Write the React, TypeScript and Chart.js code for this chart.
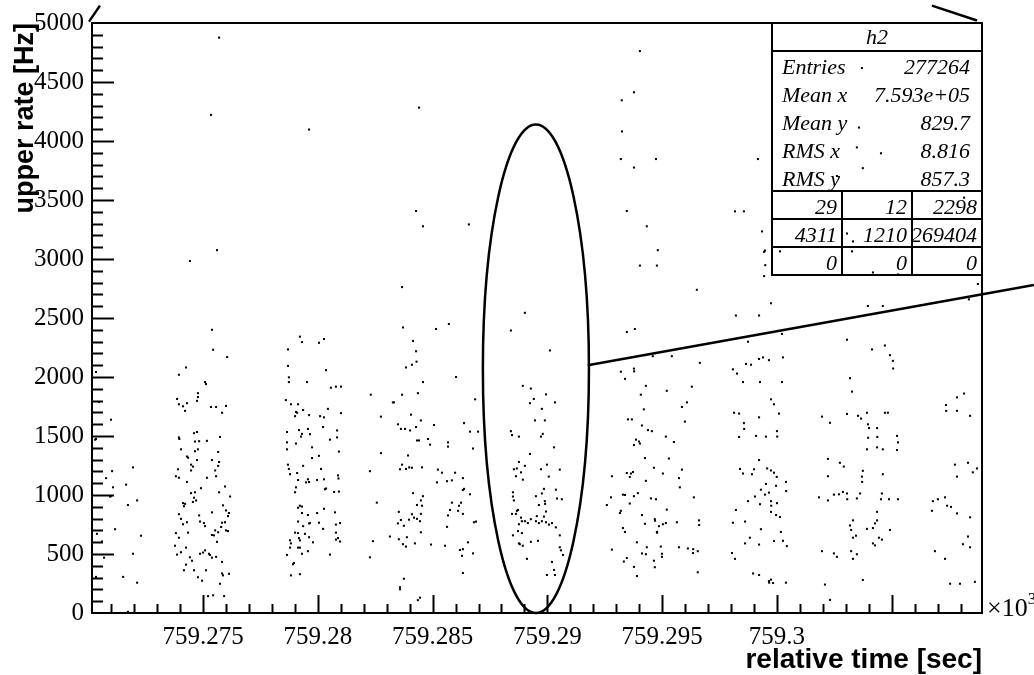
import { useEffect, useRef } from 'react';
import { Chart, registerables } from 'chart.js';

Chart.register(...registerables);

// Time origin of the run (seconds); point times below are offsets from it.
const T0 = 759270;

// Axis ranges (x in units of 10^3 s, y in Hz)
const X_MIN = 759.270165;
const X_MAX = 759.30893;
const Y_MIN = 0;
const Y_MAX = 5000;
const X_TICKS = [759.275, 759.28, 759.285, 759.29, 759.295, 759.3];
const Y_TICKS = [0, 500, 1000, 1500, 2000, 2500, 3000, 3500, 4000, 4500, 5000];

// [time offset (s), upper rate (Hz)] per time window
const window1: [number, number][] = [
  [5.70, 4876], [5.35, 4221], [5.61, 3075], [4.43, 2983], [5.39, 2400], [5.44, 2231], [6.05, 2169], [0.34, 2042],
  [4.26, 2081], [3.95, 2019], [5.09, 1957], [5.13, 1940], [4.78, 1863], [4.78, 1830], [4.74, 1798], [3.87, 1814],
  [3.95, 1769], [4.13, 1752], [4.30, 1778], [4.22, 1713], [0.47, 1788], [5.35, 1746], [5.57, 1746], [6.00, 1755],
  [5.83, 1697], [0.99, 1638], [0.30, 1469], [0.34, 1475], [3.95, 1488], [3.97, 1475], [4.61, 1524], [4.74, 1534],
  [4.65, 1453], [4.83, 1456], [5.17, 1459], [5.74, 1492], [4.04, 1387], [4.30, 1326], [4.35, 1316], [4.65, 1371],
  [4.78, 1387], [5.66, 1365], [4.74, 1296], [4.48, 1257], [4.56, 1241], [5.39, 1296], [5.70, 1280], [5.66, 1247],
  [4.48, 1208], [3.91, 1218], [5.53, 1208], [1.95, 1234], [1.04, 1202], [0.78, 1143], [3.82, 1159], [3.95, 1146],
  [4.30, 1111], [5.17, 1146], [5.57, 1159], [1.08, 1065], [1.65, 1088], [0.95, 987], [0.99, 990], [4.48, 1016],
  [4.65, 1023], [4.91, 1058], [4.61, 977], [4.70, 954], [4.56, 941], [5.70, 1023], [5.96, 1072], [6.18, 987],
  [2.13, 954], [1.73, 915], [4.13, 931], [4.17, 905], [4.22, 925], [5.87, 912], [5.39, 853], [6.00, 869],
  [6.13, 847], [6.09, 821], [4.83, 827], [4.87, 775], [3.95, 837], [4.04, 798], [4.13, 752], [4.30, 769],
  [5.04, 762], [5.09, 736], [5.83, 765], [5.96, 769], [5.79, 729], [6.00, 700], [6.09, 694], [5.53, 700],
  [5.39, 661], [5.48, 658], [5.66, 684], [5.61, 603], [3.82, 677], [4.35, 681], [3.95, 638], [0.38, 671],
  [1.17, 710], [2.30, 655], [0.60, 606], [3.78, 570], [3.87, 495], [4.04, 515], [4.26, 554], [4.43, 472],
  [4.52, 443], [4.87, 502], [5.00, 512], [5.09, 531], [5.26, 502], [5.30, 492], [5.39, 469], [5.57, 476],
  [1.95, 502], [0.69, 469], [4.26, 410], [4.17, 362], [4.61, 362], [5.13, 362], [5.83, 433], [4.78, 303],
  [4.96, 274], [5.83, 335], [5.87, 319], [6.13, 332], [5.74, 248], [0.34, 306], [1.52, 306], [2.13, 257],
  [5.22, 143], [5.44, 150], [5.92, 143], [1.73, 10],
];

const window2: [number, number][] = [
  [9.62, 4097], [9.22, 2342], [9.31, 2296], [10.05, 2290], [10.27, 2322], [8.70, 2234], [8.70, 2094], [8.74, 1997],
  [8.74, 1957], [9.53, 1957], [10.36, 2058], [10.57, 1909], [10.79, 1918], [11.01, 1918], [8.61, 1804], [8.83, 1769],
  [9.14, 1769], [9.05, 1703], [9.10, 1697], [9.01, 1668], [9.36, 1720], [9.62, 1677], [10.10, 1668], [10.27, 1658],
  [10.44, 1730], [11.01, 1694], [10.23, 1576], [10.84, 1547], [8.66, 1534], [9.18, 1550], [9.31, 1518], [9.27, 1495],
  [9.57, 1560], [9.66, 1515], [10.53, 1469], [10.84, 1488], [8.66, 1446], [8.66, 1387], [9.05, 1436], [9.75, 1404],
  [9.75, 1313], [10.05, 1332], [10.92, 1368], [8.70, 1257], [8.74, 1221], [8.79, 1176], [9.10, 1186], [9.36, 1247],
  [10.14, 1221], [9.14, 1127], [9.49, 1107], [9.57, 1133], [9.62, 1110], [9.97, 1127], [10.27, 1133], [10.31, 1049],
  [10.36, 1055], [9.05, 1065], [9.01, 1023], [10.88, 1166], [10.90, 1140], [10.71, 1026], [10.92, 1029], [9.14, 892],
  [9.22, 909], [9.31, 902], [9.31, 847], [9.57, 830], [9.97, 847], [10.27, 883], [10.75, 853], [9.14, 775],
  [9.36, 736], [9.62, 759], [9.66, 762], [10.05, 765], [10.23, 713], [10.79, 749], [10.97, 762], [9.01, 681],
  [9.14, 677], [9.44, 671], [10.79, 681], [8.79, 616], [8.83, 590], [9.18, 635], [9.22, 616], [9.62, 642],
  [9.79, 599], [10.79, 622], [10.88, 635], [10.97, 606], [8.79, 554], [9.14, 554], [9.22, 554], [9.31, 502],
  [9.57, 524], [8.66, 492], [8.96, 423], [8.92, 413], [8.83, 319], [9.22, 329], [10.53, 495], [12.31, 1850],
  [13.27, 1785], [12.75, 1664], [12.75, 1355], [12.27, 1202], [12.57, 935], [13.14, 648], [12.40, 609], [12.27, 472],
  [13.58, 201], [14.36, 109],
];

const window3: [number, number][] = [
  [14.41, 4283], [14.28, 3407], [14.58, 3277], [16.58, 3293], [13.67, 2762], [13.71, 2420], [15.15, 2407], [15.71, 2449],
  [14.15, 2306], [14.28, 2218], [14.30, 2130], [14.10, 2104], [13.84, 2081], [14.58, 1957], [16.02, 2000], [13.32, 1785],
  [13.67, 1850], [14.36, 1863], [16.85, 1811], [14.06, 1681], [13.49, 1599], [13.62, 1560], [13.80, 1560], [14.02, 1547],
  [14.49, 1632], [14.28, 1576], [14.32, 1462], [14.41, 1462], [14.80, 1475], [14.89, 1427], [15.06, 1593], [16.37, 1609],
  [16.63, 1537], [16.98, 1537], [15.67, 1446], [15.67, 1410], [16.76, 1394], [13.93, 1335], [13.67, 1257], [13.84, 1221],
  [13.98, 1234], [14.10, 1231], [13.58, 1218], [14.54, 1234], [15.23, 1215], [15.41, 1189], [15.19, 1107], [15.63, 1117],
  [15.84, 1124], [15.98, 1189], [16.32, 1143], [16.37, 1052], [14.15, 1016], [14.58, 990], [14.49, 954], [14.54, 909],
  [14.32, 915], [14.10, 837], [13.53, 857], [13.49, 759], [13.62, 788], [13.97, 791], [14.19, 808], [14.32, 798],
  [14.49, 840], [14.45, 778], [13.75, 739], [13.53, 625], [13.88, 642], [13.84, 563], [13.71, 583], [14.23, 590],
  [14.49, 684], [14.93, 580], [15.54, 570], [15.76, 873], [15.84, 935], [15.67, 827], [15.63, 730], [16.11, 866],
  [16.15, 909], [16.24, 935], [16.32, 1042], [16.63, 1006], [16.32, 840], [16.80, 769], [16.89, 775], [16.32, 541],
  [16.19, 534], [16.28, 485], [16.76, 505], [16.54, 599], [16.32, 339], [13.75, 290], [13.58, 218], [14.45, 130],
];

const window4: [number, number][] = [
  [19.02, 2544], [18.41, 2394], [18.93, 1925], [19.28, 1902], [19.41, 1814], [19.24, 1778], [19.46, 1632], [19.76, 1730],
  [19.89, 1632], [18.41, 1541], [18.46, 1508], [18.76, 1495], [19.72, 1495], [19.80, 1518], [19.24, 1348], [18.76, 1280],
  [18.54, 1218], [18.67, 1225], [18.63, 1159], [18.85, 1192], [19.02, 1247], [18.93, 1130], [19.72, 1218], [18.50, 1023],
  [18.50, 987], [18.54, 954], [18.67, 866], [18.72, 873], [18.63, 840], [18.46, 840], [18.85, 808], [18.76, 752],
  [18.89, 778], [19.02, 778], [19.15, 762], [19.28, 795], [19.54, 821], [19.50, 778], [19.63, 762], [19.76, 778],
  [19.85, 817], [19.76, 1013], [19.89, 948], [19.50, 990], [19.63, 915], [18.50, 658], [18.72, 694], [18.89, 677],
  [18.76, 590], [18.80, 583], [18.93, 570], [19.11, 459], [19.28, 603], [19.59, 612],
  [20.11, 2225], [19.94, 1853], [20.33, 1785], [20.29, 1404], [19.98, 1257], [20.06, 1156], [20.54, 1215], [19.85, 1052],
  [19.90, 925], [20.37, 1045], [20.42, 970], [20.63, 964], [19.94, 860], [19.94, 769], [20.07, 749], [20.20, 762],
  [20.37, 726], [20.54, 658], [20.20, 433], [20.29, 365], [20.59, 531], [20.68, 492], [19.98, 322], [20.33, 322],
  [20.54, 557],
];

const window5: [number, number][] = [
  [24.03, 4762], [23.77, 4413], [23.24, 4345], [23.25, 4081], [23.20, 3847], [23.77, 3775], [24.73, 3847], [23.46, 3407],
  [24.33, 3277], [24.81, 3075], [24.03, 2944], [24.77, 2944], [23.46, 2381], [23.81, 2407], [24.59, 2176], [25.42, 2176],
  [23.20, 2045], [23.38, 1984], [23.77, 2071], [23.78, 2048], [24.29, 1925], [24.07, 1850], [25.20, 1883], [26.08, 1785],
  [26.29, 1918], [23.51, 1641], [23.68, 1641], [24.20, 1726], [24.38, 1550], [24.55, 1541], [24.12, 1589], [25.99, 1622],
  [25.86, 1746], [23.86, 1469], [23.99, 1453], [23.77, 1423], [24.03, 1436], [25.16, 1495], [25.51, 1449], [24.25, 1313],
  [25.29, 1309], [23.46, 1186], [23.64, 1182], [23.59, 1153], [23.73, 1195], [24.64, 1231], [24.29, 1120], [25.03, 1182],
  [25.86, 1215], [25.73, 1143], [25.77, 1065], [22.81, 1159], [22.77, 980], [22.59, 915], [23.29, 1003], [23.38, 1000],
  [23.77, 990], [23.94, 1016], [23.59, 928], [24.51, 971], [24.73, 964], [23.20, 866], [23.16, 847], [24.12, 830],
  [24.68, 795], [24.69, 782], [25.20, 876], [26.38, 980], [23.29, 720], [23.38, 687], [24.25, 756], [24.77, 687],
  [24.86, 736], [25.03, 752], [25.16, 762], [25.64, 769], [24.78, 680], [22.81, 537], [23.90, 599], [24.33, 557],
  [24.12, 505], [24.29, 498], [24.94, 563], [24.99, 502], [23.46, 466], [23.33, 436], [23.77, 391], [23.90, 313],
  [24.64, 443], [24.68, 388], [25.73, 557], [26.12, 547], [26.34, 508], [26.35, 541], [24.99, 476],
  [26.51, 2739], [26.64, 2120], [26.55, 524], [26.60, 785], [26.61, 746], [26.55, 345],
];

const window6: [number, number][] = [
  [29.17, 3847], [28.17, 3404], [28.56, 3404], [29.35, 3234], [29.48, 3071], [29.44, 3061], [29.49, 2948], [29.74, 2625],
  [28.21, 2521], [29.22, 2521], [28.74, 2299], [30.22, 2365], [28.08, 2065], [28.26, 2029], [28.65, 2111], [28.87, 2104],
  [29.22, 2153], [29.39, 2166], [29.65, 2143], [30.26, 2166], [28.52, 1957], [29.26, 1957], [30.22, 1957], [29.74, 1811],
  [29.87, 1769], [28.13, 1697], [28.35, 1690], [29.22, 1658], [30.09, 1690], [28.56, 1609], [28.57, 1560], [29.09, 1501],
  [29.52, 1495], [30.00, 1541], [30.01, 1495], [28.35, 1492], [29.22, 1296], [28.39, 1221], [28.52, 1182], [28.91, 1176],
  [29.00, 1218], [29.57, 1225], [29.74, 1208], [29.87, 1189], [29.99, 1153], [29.52, 1094], [29.96, 1078], [30.39, 1111],
  [30.40, 1033], [29.30, 1045], [29.48, 1003], [29.65, 1020], [29.04, 987], [28.74, 948], [29.26, 922], [29.74, 948],
  [29.75, 909], [30.00, 931], [28.21, 873], [29.74, 857], [29.96, 830], [30.13, 814], [28.61, 775], [28.08, 765],
  [29.30, 710], [28.82, 638], [28.61, 590], [29.22, 580], [30.17, 687], [29.87, 609], [30.26, 612], [30.43, 567],
  [28.04, 508], [28.17, 459], [28.96, 335], [29.22, 322], [29.65, 270], [29.74, 283], [29.83, 254], [29.66, 257],
  [30.39, 257], [32.09, 241], [30.13, 3065], [29.44, 2855],
];

const window7: [number, number][] = [
  [33.70, 4618], [33.57, 4114], [33.48, 3946], [34.53, 3896], [33.74, 3770], [32.61, 3703], [38.15, 3520], [33.31, 3149],
  [33.05, 3216], [33.27, 3065],
  [31.96, 1664], [32.31, 1612], [32.22, 1306], [32.22, 1159], [31.83, 980], [32.22, 954], [32.48, 1003], [32.70, 1006],
  [32.87, 1026], [31.96, 524], [32.48, 505], [32.61, 476], [32.31, 111],
  [34.18, 2886], [35.27, 2869], [38.75, 2788], [33.96, 2602], [34.61, 2602], [38.36, 2658], [33.05, 2316], [34.14, 2234],
  [34.70, 2267], [34.92, 2185], [35.05, 2137], [35.06, 2072], [33.18, 1990], [33.27, 1876], [38.15, 1860], [37.84, 1827],
  [33.05, 1687], [33.53, 1671], [33.92, 1697], [34.70, 1697], [34.83, 1697], [37.36, 1762], [37.37, 1713], [37.84, 1713],
  [38.41, 1671], [33.66, 1648], [33.96, 1599], [34.01, 1567], [34.36, 1567], [33.97, 1485], [34.37, 1492], [35.23, 1501],
  [35.27, 1446], [33.92, 1387], [34.36, 1404], [34.61, 1387], [35.23, 1381], [32.74, 1273], [32.91, 1241], [37.75, 1257],
  [38.32, 1273], [38.53, 1192], [38.71, 1225], [33.74, 1205], [33.70, 1156], [33.71, 1111], [34.61, 1176], [37.84, 1156],
  [33.62, 1013], [33.05, 1013], [33.06, 964], [33.48, 971], [34.57, 1013], [34.53, 964], [34.36, 857], [34.88, 964],
  [35.27, 964], [36.79, 948], [37.01, 964], [37.32, 980], [37.41, 909], [37.58, 899], [37.84, 844], [38.41, 811],
  [36.75, 866], [34.36, 785], [34.27, 759], [34.18, 720], [33.92, 713], [33.31, 785], [33.18, 742], [33.23, 704],
  [33.31, 638], [33.44, 655], [33.23, 524], [33.48, 498], [33.31, 459], [34.92, 704], [34.44, 638], [34.57, 622],
  [34.18, 590], [34.27, 573], [36.88, 524], [37.32, 459], [33.74, 280], [37.54, 248], [37.97, 248], [38.62, 264],
  [38.32, 648], [38.10, 583], [38.41, 557],
];

// Statistics panel contents
const STATS_TITLE = 'h2';
const STATS_ROWS: [string, string][] = [
  ['Entries', '277264'],
  ['Mean x', '7.593e+05'],
  ['Mean y', '829.7'],
  ['RMS x', '8.816'],
  ['RMS y', '857.3'],
];
const STATS_GRID: string[][] = [
  ['29', '12', '2298'],
  ['4311', '1210', '269404'],
  ['0', '0', '0'],
];

// Highlight ellipse around one burst and the guide lines (time offset s, rate Hz)
const ELLIPSE = { t: 19.5, rate: 2070, halfT: 2.31, halfRate: 2070 };
const GUIDE_LINES: [number, number, number, number][] = [
  [21.76, 2099, 41.19, 2779],
  [0.035, 5012, 0.51, 5147],
  [36.75, 5147, 38.71, 5021],
];

const X_TITLE = 'relative time [sec]';
const Y_TITLE = 'upper rate [Hz]';

const SERIF = '"Liberation Serif", "Times New Roman", serif';
const SANS = '"Liberation Sans", Arial, sans-serif';

const toX = (t: number) => (T0 + t) / 1000;

const rootStyle = {
  id: 'rootStyle',
  afterDatasetsDraw(chart: any) {
    const { ctx, chartArea: a, scales } = chart;
    const xs = scales.x;
    const ys = scales.y;
    ctx.save();
    ctx.strokeStyle = '#000';
    ctx.fillStyle = '#000';

    // frame
    ctx.lineWidth = 2;
    ctx.strokeRect(a.left, a.top, a.right - a.left, a.bottom - a.top);

    // y ticks (inside)
    for (let v = Y_MIN + 100; v < Y_MAX; v += 100) {
      const y = Math.round(ys.getPixelForValue(v)) + 0.5;
      const len = v % 500 === 0 ? 22 : 11;
      ctx.beginPath();
      ctx.moveTo(a.left, y);
      ctx.lineTo(a.left + len, y);
      ctx.stroke();
    }
    // x ticks (inside)
    for (let k = 759271; k <= 759308; k++) {
      const v = k / 1000;
      const x = Math.round(xs.getPixelForValue(v)) + 0.5;
      const len = k % 5 === 0 ? 18 : 9;
      ctx.beginPath();
      ctx.moveTo(x, a.bottom);
      ctx.lineTo(x, a.bottom - len);
      ctx.stroke();
    }

    // exponent marker
    ctx.font = `26px ${SERIF}`;
    ctx.textAlign = 'left';
    ctx.textBaseline = 'alphabetic';
    ctx.fillText('\u00d710', a.right + 5, a.bottom + 3);
    const w = ctx.measureText('\u00d710').width;
    ctx.font = `17px ${SERIF}`;
    ctx.fillText('3', a.right + 5 + w, a.bottom - 9);

    // axis titles
    ctx.font = `bold 28px ${SANS}`;
    ctx.textAlign = 'right';
    ctx.fillText(X_TITLE, a.right, a.bottom + 55);
    ctx.font = `bold 27px ${SANS}`;
    ctx.save();
    ctx.translate(33, a.top);
    ctx.rotate(-Math.PI / 2);
    ctx.fillText(Y_TITLE, 0, 0);
    ctx.restore();

    // ellipse and guide lines
    ctx.lineWidth = 2.5;
    const cx = xs.getPixelForValue(toX(ELLIPSE.t));
    const cy = ys.getPixelForValue(ELLIPSE.rate);
    const rx = Math.abs(xs.getPixelForValue(toX(ELLIPSE.t + ELLIPSE.halfT)) - cx);
    const ry = Math.abs(ys.getPixelForValue(ELLIPSE.rate + ELLIPSE.halfRate) - cy);
    ctx.beginPath();
    ctx.ellipse(cx, cy, rx, ry, 0, 0, Math.PI * 2);
    ctx.stroke();
    for (const [t1, r1, t2, r2] of GUIDE_LINES) {
      ctx.beginPath();
      ctx.moveTo(xs.getPixelForValue(toX(t1)), ys.getPixelForValue(r1));
      ctx.lineTo(xs.getPixelForValue(toX(t2)), ys.getPixelForValue(r2));
      ctx.stroke();
    }

    // statistics panel
    const bx1 = a.right - 210;
    const bx2 = a.right;
    const by1 = a.top;
    const titleH = 28;
    const statsBottom = by1 + 168;
    const rowH = 28;
    const by2 = statsBottom + rowH * 3;
    ctx.lineWidth = 2;
    ctx.strokeRect(bx1, by1, bx2 - bx1, by2 - by1);
    ctx.beginPath();
    ctx.moveTo(bx1, by1 + titleH);
    ctx.lineTo(bx2, by1 + titleH);
    for (let i = 0; i < 3; i++) {
      const y = statsBottom + rowH * i;
      ctx.moveTo(bx1, y);
      ctx.lineTo(bx2, y);
    }
    const colW = (bx2 - bx1) / 3;
    ctx.moveTo(bx1 + colW, statsBottom);
    ctx.lineTo(bx1 + colW, by2);
    ctx.moveTo(bx1 + colW * 2, statsBottom);
    ctx.lineTo(bx1 + colW * 2, by2);
    ctx.stroke();

    ctx.font = `italic 22px ${SERIF}`;
    ctx.textAlign = 'center';
    ctx.fillText(STATS_TITLE, (bx1 + bx2) / 2, by1 + 21);
    STATS_ROWS.forEach(([label, value], i) => {
      const y = by1 + 51 + i * 28;
      ctx.textAlign = 'left';
      ctx.fillText(label, bx1 + 10, y);
      ctx.textAlign = 'right';
      ctx.fillText(value, bx2 - 12, y);
    });
    ctx.textAlign = 'right';
    STATS_GRID.forEach((row, r) => {
      row.forEach((cell, c) => {
        ctx.fillText(cell, bx1 + colW * (c + 1) - 5, statsBottom + rowH * (r + 1) - 5);
      });
    });
    ctx.restore();
  },
};

export default function App() {
  const canvasRef = useRef<HTMLCanvasElement | null>(null);

  useEffect(() => {
    document.body.style.margin = '0';
    const canvas = canvasRef.current;
    if (!canvas) return;
    const points = [window1, window2, window3, window4, window5, window6, window7]
      .flat()
      .map(([t, rate]) => ({ x: toX(t), y: rate }));

    const chart = new Chart(canvas, {
      type: 'scatter',
      data: {
        datasets: [
          {
            data: points,
            pointStyle: 'rect',
            pointRadius: 1.45,
            pointHoverRadius: 1.45,
            backgroundColor: '#000',
            borderWidth: 0,
          },
        ],
      },
      options: {
        responsive: false,
        animation: false,
        events: [],
        layout: { padding: { top: 17.5, right: 52, left: 0, bottom: 0 } },
        plugins: { legend: { display: false }, tooltip: { enabled: false } },
        scales: {
          x: {
            type: 'linear',
            min: X_MIN,
            max: X_MAX,
            afterBuildTicks: (s: any) => {
              s.ticks = X_TICKS.map((v) => ({ value: v }));
            },
            afterFit: (s: any) => {
              s.height = 62;
            },
            ticks: {
              autoSkip: false,
              maxRotation: 0,
              padding: 9,
              color: '#000',
              font: { family: SERIF, size: 25 },
              callback: (v: any) => String(Number(Number(v).toFixed(3))),
            },
            grid: { display: false, drawTicks: false },
            border: { display: false },
          },
          y: {
            min: Y_MIN,
            max: Y_MAX,
            afterBuildTicks: (s: any) => {
              s.ticks = Y_TICKS.map((v) => ({ value: v }));
            },
            afterFit: (s: any) => {
              s.width = 92;
            },
            ticks: {
              autoSkip: false,
              padding: 8,
              color: '#000',
              font: { family: SERIF, size: 25 },
              callback: (v: any) => String(v),
            },
            grid: { display: false, drawTicks: false },
            border: { display: false },
          },
        },
      },
      plugins: [rootStyle],
    });
    return () => chart.destroy();
  }, []);

  return (
    <div style={{ width: 1034, height: 675, background: '#fff' }}>
      <canvas ref={canvasRef} width={1034} height={675} style={{ display: 'block' }} />
    </div>
  );
}
